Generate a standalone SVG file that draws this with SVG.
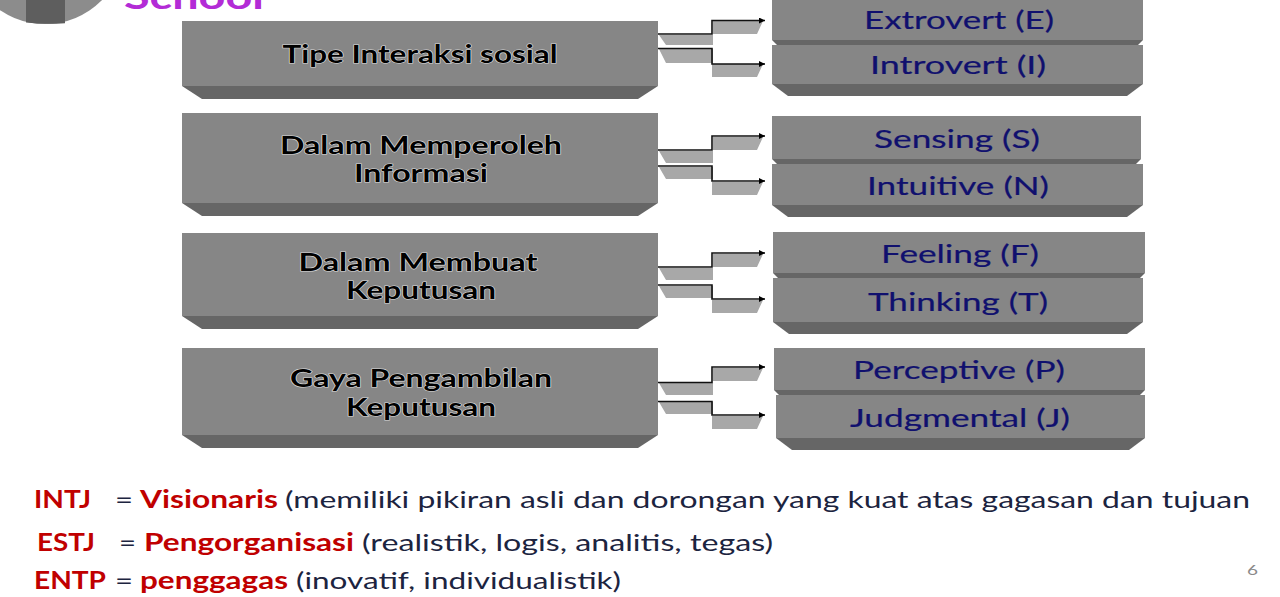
<svg xmlns="http://www.w3.org/2000/svg" width="1280" height="597" viewBox="0 0 1280 597">
<defs>
<marker id="ah" markerUnits="userSpaceOnUse" markerWidth="8" markerHeight="8" refX="6" refY="3" orient="auto"><path d="M0,0L6,3L0,6Z" fill="#000"/></marker>
</defs>
<style>
text{font-family:"Lato","Liberation Sans",sans-serif}
.f{fill:#868686}.b{fill:#666}
.l{font-size:24px;font-weight:700;fill:#000;text-anchor:middle;paint-order:stroke;stroke:#fff;stroke-width:1.2px;stroke-opacity:.7}
.r{font-size:25px;font-weight:400;fill:#10106e;text-anchor:middle;stroke:#10106e;stroke-width:.2px}
.s{fill:#a8a8a8}
.c{fill:none;stroke:#111;stroke-width:1.6;marker-end:url(#ah)}
.t{font-size:24px;fill:#1c2440}
.k{font-weight:700;fill:#c00000}
</style>
<g id="logo">
<circle cx="45" cy="-56" r="80" fill="#8c8c8c"/>
<path d="M26,-10H65V23.2Q45,24.6 26,22.6Z" fill="#5e5e5e"/>
<text x="124" y="9" font-size="34" font-weight="700" fill="#b32bd6" textLength="140" lengthAdjust="spacingAndGlyphs">School</text>
</g>
<g id="connectors">
<path class="s" d="M659,35H713V45H666Z M659,49H713V63H666Z M713,21H763L757,34H713Z M712,64H763L757,77H712Z"/>
<path class="s" d="M659,151H713V163H666Z M659,167H713V179H666Z M713,137H763L757,150H713Z M712,182H763L757,195H712Z"/>
<path class="s" d="M659,268H713V280H666Z M659,286H713V298H666Z M713,254H763L757,267H713Z M712,300H763L757,313H712Z"/>
<path class="s" d="M659,383H713V395H666Z M659,402H713V414H666Z M713,368H763L757,381H713Z M712,416H763L757,429H712Z"/>
<path class="c" d="M658,34H712V20.5H765"/>
<path class="c" d="M658,48.500H712V64H765"/>
<path class="c" d="M658,150H712V136H765"/>
<path class="c" d="M658,166H712V181H765"/>
<path class="c" d="M658,267H712V253H765"/>
<path class="c" d="M658,285H712V299H765"/>
<path class="c" d="M658,382.500H712V367H765"/>
<path class="c" d="M658,401.500H712V415H765"/>
</g>
<g id="left1"><rect class="f" x="182" y="21" width="476" height="65"/><path class="b" d="M182,86H658L638,99H202Z"/><text class="l" x="420" y="62.500" textLength="275" lengthAdjust="spacingAndGlyphs">Tipe Interaksi sosial</text></g>
<g id="left2"><rect class="f" x="182" y="113" width="476" height="90"/><path class="b" d="M182,203H658L638,216H202Z"/><text class="l" x="421" y="154" textLength="282" lengthAdjust="spacingAndGlyphs">Dalam Memperoleh</text><text class="l" x="421" y="182" textLength="134" lengthAdjust="spacingAndGlyphs">Informasi</text></g>
<g id="left3"><rect class="f" x="182" y="233" width="476" height="83"/><path class="b" d="M182,316H658L638,329H202Z"/><text class="l" x="418" y="271" textLength="239" lengthAdjust="spacingAndGlyphs">Dalam Membuat</text><text class="l" x="421" y="299" textLength="150" lengthAdjust="spacingAndGlyphs">Keputusan</text></g>
<g id="left4"><rect class="f" x="182" y="348" width="476" height="87"/><path class="b" d="M182,435H658L638,448H202Z"/><text class="l" x="421" y="387" textLength="262" lengthAdjust="spacingAndGlyphs">Gaya Pengambilan</text><text class="l" x="421" y="416" textLength="150" lengthAdjust="spacingAndGlyphs">Keputusan</text></g>
<g id="extrovert"><rect class="f" x="772" y="-2" width="371" height="42"/><path class="b" d="M772,40H1143L1138,45H777Z"/><text class="r" x="959" y="29" textLength="190" lengthAdjust="spacingAndGlyphs">Extrovert (E)</text></g>
<g id="introvert"><rect class="f" x="772" y="45" width="371" height="39"/><path class="b" d="M772,84H1143L1127,96H788Z"/><text class="r" x="958" y="73.500" textLength="176" lengthAdjust="spacingAndGlyphs">Introvert (I)</text></g>
<g id="sensing"><rect class="f" x="772" y="116" width="369" height="43"/><path class="b" d="M772,159H1141L1136,164H777Z"/><text class="r" x="957" y="147.500" textLength="166" lengthAdjust="spacingAndGlyphs">Sensing (S)</text></g>
<g id="intuitive"><rect class="f" x="772" y="164" width="371" height="41"/><path class="b" d="M772,205H1143L1127,217H788Z"/><text class="r" x="958" y="195" textLength="182" lengthAdjust="spacingAndGlyphs">Intuitive (N)</text></g>
<g id="feeling"><rect class="f" x="773" y="232" width="372" height="41"/><path class="b" d="M773,273H1145L1140,278H778Z"/><text class="r" x="960" y="263" textLength="158" lengthAdjust="spacingAndGlyphs">Feeling (F)</text></g>
<g id="thinking"><rect class="f" x="773" y="278" width="370" height="44"/><path class="b" d="M773,322H1143L1127,334H789Z"/><text class="r" x="958" y="311" textLength="180" lengthAdjust="spacingAndGlyphs">Thinking (T)</text></g>
<g id="perceptive"><rect class="f" x="774" y="348" width="371" height="42"/><path class="b" d="M774,390H1145L1140,395H779Z"/><text class="r" x="959" y="379" textLength="212" lengthAdjust="spacingAndGlyphs">Perceptive (P)</text></g>
<g id="judgmental"><rect class="f" x="776" y="395" width="369" height="43"/><path class="b" d="M776,438H1145L1129,450H792Z"/><text class="r" x="960" y="427" textLength="220" lengthAdjust="spacingAndGlyphs">Judgmental (J)</text></g>
<text class="t" x="34" y="508"><tspan class="k" x="34" textLength="57" lengthAdjust="spacingAndGlyphs">INTJ</tspan><tspan x="115" textLength="18" lengthAdjust="spacingAndGlyphs">=</tspan><tspan class="k" x="140" textLength="138" lengthAdjust="spacingAndGlyphs">Visionaris</tspan><tspan x="285" textLength="965" lengthAdjust="spacingAndGlyphs">(memiliki pikiran asli dan dorongan yang kuat atas gagasan dan tujuan</tspan></text>
<text class="t" x="37" y="550.500"><tspan class="k" x="37" textLength="58" lengthAdjust="spacingAndGlyphs">ESTJ</tspan><tspan x="119" textLength="17" lengthAdjust="spacingAndGlyphs">=</tspan><tspan class="k" x="144" textLength="210" lengthAdjust="spacingAndGlyphs">Pengorganisasi</tspan><tspan x="362" textLength="411" lengthAdjust="spacingAndGlyphs">(realistik, logis, analitis, tegas)</tspan></text>
<text class="t" x="34" y="588.500"><tspan class="k" x="34" textLength="72" lengthAdjust="spacingAndGlyphs">ENTP</tspan><tspan x="115" textLength="18" lengthAdjust="spacingAndGlyphs">=</tspan><tspan class="k" x="140" textLength="148" lengthAdjust="spacingAndGlyphs">penggagas</tspan><tspan x="296" textLength="325" lengthAdjust="spacingAndGlyphs">(inovatif, individualistik)</tspan></text>
<text x="1247" y="575" font-size="14" fill="#8a8a8a" textLength="11" lengthAdjust="spacingAndGlyphs">6</text>
</svg>
